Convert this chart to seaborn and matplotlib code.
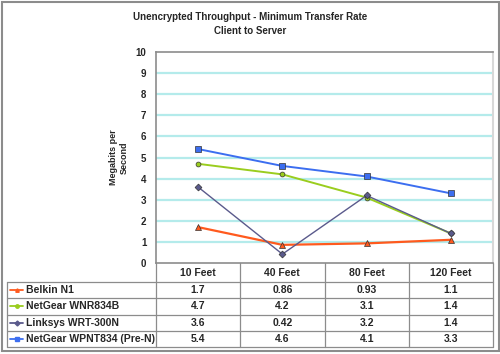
import matplotlib
matplotlib.use("Agg")
import matplotlib.pyplot as plt
import numpy as np
import pandas as pd
import seaborn as sns
from matplotlib.patches import Rectangle

# chart data
distances = ["10 Feet", "40 Feet", "80 Feet", "120 Feet"]
routers = ["Belkin N1", "NetGear WNR834B", "Linksys WRT-300N", "NetGear WPNT834 (Pre-N)"]
belkin = [1.7, 0.86, 0.93, 1.1]
netgear_wnr = [4.7, 4.2, 3.1, 1.4]
linksys = [3.6, 0.42, 3.2, 1.4]
netgear_wpnt = [5.4, 4.6, 4.1, 3.3]
series = [belkin, netgear_wnr, linksys, netgear_wpnt]

colors = ["#FF5A1E", "#9ACD1E", "#5A5A8C", "#3C6EF0"]
markers = ["^", "o", "D", "s"]
msizes = [4.5, 3.5, 3.5, 4.5]
lwidths = [1.6, 1.4, 1.0, 1.4]

rows = []
for name, vals in zip(routers, series):
    for i, v in enumerate(vals):
        rows.append({"router": name, "pos": i, "value": v})
df = pd.DataFrame(rows)

sns.set_style("white")
plt.rcParams["font.family"] = ["Liberation Sans", "DejaVu Sans"]
plt.rcParams["font.weight"] = "bold"

W, H = 500, 354
fig = plt.figure(figsize=(5, 3.54), dpi=100)

# plot area in pixel terms
pl, pr, pt, pb = 156, 493, 52, 263
ax = fig.add_axes([pl / W, 1 - pb / H, (pr - pl) / W, (pb - pt) / H])

for k, name in enumerate(routers):
    sub = df[df.router == name]
    sns.lineplot(data=sub, x="pos", y="value", ax=ax, color=colors[k],
                 marker=markers[k], markersize=msizes[k], linewidth=lwidths[k],
                 markeredgecolor="#333333", markeredgewidth=0.5, zorder=3 + k)

ax.set_xlim(-0.5, len(distances) - 0.5)
ax.set_ylim(0, 10)
ax.set_yticks(range(0, 11))
ax.set_yticklabels([str(t) for t in range(0, 11)], fontsize=7, fontweight="bold")
ax.set_xticks([])
ax.set_xlabel("")
ax.set_ylabel("Megabits per\nSecond", fontsize=6.5, fontweight="bold", labelpad=5)
for y in range(1, 10):
    ax.axhline(y, color="#B4EBEB", linewidth=1.6, zorder=1)
for s in ["left", "bottom", "top"]:
    ax.spines[s].set_color("#8C8C8C")
    ax.spines[s].set_linewidth(1.2)
ax.spines["right"].set_color("#D8D8D8")
ax.spines["right"].set_linewidth(1.5)
ax.tick_params(axis="y", length=4, color="#8C8C8C", width=1, pad=3)
if ax.legend_:
    ax.legend_.remove()

fig.text(0.5, 1 - 17 / H, "Unencrypted Throughput - Minimum Transfer Rate",
         ha="center", va="center", fontsize=7, fontweight="bold")
fig.text(0.5, 1 - 31 / H, "Client to Server",
         ha="center", va="center", fontsize=7, fontweight="bold")

# data table under the chart
tl, tr, tt, tb = 7, 493, 263, 347
tax = fig.add_axes([tl / W, 1 - tb / H, (tr - tl) / W, (tb - tt) / H])
col_w = (pr - pl) / len(distances)
x0 = -0.5 - (pl - tl) / col_w
tax.set_xlim(x0, len(distances) - 0.5)
tax.set_ylim(tb - tt, 0)
tax.axis("off")

head_h = 19
row_h = (tb - tt - head_h) / len(routers)
line_c = "#8C8C8C"
for r in range(len(routers) + 1):
    y = head_h + r * row_h
    tax.plot([x0, len(distances) - 0.5], [y, y], color=line_c, lw=0.9, clip_on=False)
tax.plot([x0, x0], [head_h, tb - tt], color=line_c, lw=0.9, clip_on=False)
for c in range(len(distances) + 1):
    xv = -0.5 + c
    tax.plot([xv, xv], [0, tb - tt], color=line_c, lw=0.9, clip_on=False)

for c, d in enumerate(distances):
    tax.text(c, head_h / 2, d, ha="center", va="center", fontsize=7.5, fontweight="bold")

px = 1 / col_w
for r, (name, vals) in enumerate(zip(routers, series)):
    yc = head_h + (r + 0.5) * row_h
    tax.plot([x0 + 3 * px, x0 + 16 * px], [yc, yc], color=colors[r], lw=1.3, clip_on=False)
    tax.plot([x0 + 9.5 * px], [yc], color=colors[r], marker=markers[r], markersize=2.5, clip_on=False)
    tax.text(x0 + 19 * px, yc, name, ha="left", va="center", fontsize=7.5, fontweight="bold")
    for c, v in enumerate(vals):
        tax.text(c, yc, f"{v:g}", ha="center", va="center", fontsize=7.5, fontweight="bold")

# outer frame
fig.patches.append(Rectangle((1.5 / W, 3.5 / H), 497 / W, 349 / H, transform=fig.transFigure,
                             fill=False, edgecolor="#8C8C8C", linewidth=1.5))

fig.savefig("out.png", dpi=100)
